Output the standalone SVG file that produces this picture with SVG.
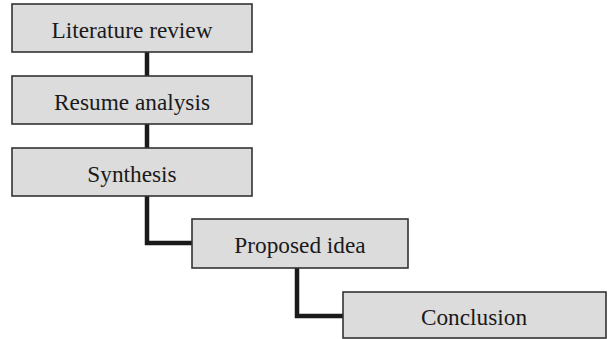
<svg xmlns="http://www.w3.org/2000/svg" width="608" height="339" viewBox="0 0 608 339">
<style>
.box{fill:#dcdcdc;stroke:#333;stroke-width:1.6}
.lbl{font-family:"Liberation Serif","Times New Roman",serif;font-size:23.3px;fill:#1a1a1a;text-anchor:middle}
.conn{fill:none;stroke:#1a1a1a;stroke-width:4.5;stroke-linejoin:miter}
</style>
<rect width="608" height="339" fill="#fff"/>
<g id="connectors">
<line class="conn" x1="147" y1="52" x2="147" y2="76"/>
<line class="conn" x1="147" y1="124" x2="147" y2="148"/>
<polyline class="conn" points="147,196 147,243 192,243"/>
<polyline class="conn" points="297,268 297,316 343,316"/>
</g>
<g id="n1"><rect class="box" x="12" y="4" width="240" height="48"/><text class="lbl" x="132" y="38">Literature review</text></g>
<g id="n2"><rect class="box" x="12" y="76" width="240" height="48"/><text class="lbl" x="132" y="110">Resume analysis</text></g>
<g id="n3"><rect class="box" x="12" y="148" width="240" height="48"/><text class="lbl" x="132" y="182">Synthesis</text></g>
<g id="n4"><rect class="box" x="192" y="219" width="216" height="49"/><text class="lbl" x="300" y="253">Proposed idea</text></g>
<g id="n5"><rect class="box" x="343" y="292" width="263" height="46"/><text class="lbl" x="474" y="325">Conclusion</text></g>
</svg>
